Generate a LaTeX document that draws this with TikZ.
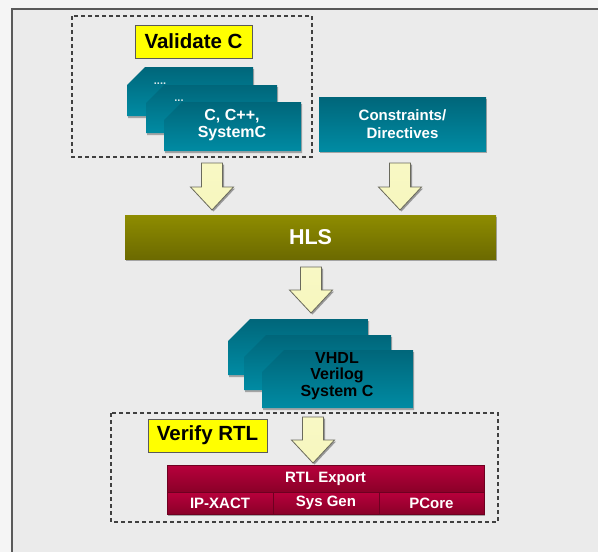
\documentclass[tikz,border=0pt]{standalone}
\usepackage{fontspec}
\setmainfont{Liberation Sans}
\usetikzlibrary{shadows}

\definecolor{pagebg}{HTML}{F5F5F5}
\definecolor{panelbg}{HTML}{EBEBEB}
\definecolor{framegray}{HTML}{5A5A5A}
\definecolor{tealtop}{HTML}{00667A}
\definecolor{tealbot}{HTML}{008BA3}
\definecolor{olivetop}{HTML}{8E8C00}
\definecolor{olivebot}{HTML}{6C6A00}
\definecolor{redtop}{HTML}{B8003C}
\definecolor{redbot}{HTML}{8A0028}
\definecolor{arrowfill}{HTML}{F7F7BE}
\definecolor{arrowline}{HTML}{6A6A5C}
\definecolor{labelyellow}{HTML}{FFFF00}

\tikzset{
  shade/.style={drop shadow={shadow xshift=1pt, shadow yshift=-2pt, opacity=0.3, fill=black}},
  card/.style={top color=tealtop, bottom color=tealbot, shade},
  tealbox/.style={draw=none, top color=tealtop, bottom color=tealbot, shade,
    inner sep=0pt, text=white, align=center, font=\bfseries\fontsize{15}{18}\selectfont},
  olivebar/.style={draw=none, top color=olivetop, bottom color=olivebot, shade,
    inner sep=0pt, text=white, font=\bfseries\fontsize{21.5}{24}\selectfont},
  redcell/.style={draw=redbot!80!black, line width=0.3pt, top color=redtop, bottom color=redbot,
    inner sep=0pt, text=white, font=\bfseries\fontsize{15}{17}\selectfont},
  tag/.style={draw=framegray, line width=0.6pt, fill=labelyellow, inner sep=0pt,
    font=\bfseries\fontsize{20.5}{23}\selectfont},
  groupbox/.style={draw=black!75, line width=1.3pt, dash pattern=on 4pt off 3pt},
  blockarrow/.style={draw=arrowline, line width=0.8pt, top color=arrowfill!90!white,
    bottom color=arrowfill, drop shadow={shadow xshift=1.5pt, shadow yshift=-1.5pt, opacity=0.35, fill=black}},
  cardtext/.style={align=center, inner sep=0pt, font=\bfseries\fontsize{16}{17.5}\selectfont},
  dots/.style={text=white!85!tealtop, font=\bfseries\fontsize{11}{12}\selectfont, inner sep=0pt}
}

% chamfered card: x1, y1, x2, y2, chamfer size
\newcommand\chamcard[5]{%
  \path[card] (#1,{#2+#5}) -- ({#1+#5},#2) -- (#3,#2) -- (#3,#4) -- (#1,#4) -- cycle;}

% downward block arrow: centre x, top y, tip y
\newcommand\downblock[3]{%
  \path[blockarrow] ({#1-10.5},#2) -- ({#1+10.5},#2) -- ({#1+10.5},{#3-23})
    -- ({#1+21.5},{#3-23}) -- (#1,#3) -- ({#1-21.5},{#3-23})
    -- ({#1-10.5},{#3-23}) -- cycle;}

\begin{document}
\begin{tikzpicture}[x=1pt, y=-1pt]
  \useasboundingbox (0,0) rectangle (598,552);
  \fill[pagebg] (0,0) rectangle (598,552);
  \fill[panelbg] (12,9) rectangle (598,552);
  \draw[framegray, line width=1.3pt] (12,552) -- (12,9) -- (598,9);

  % ---- C sources and validation ----
  \draw[groupbox] (72,16) rectangle (312,157);
  \node[tag, minimum width=117pt, minimum height=33pt] (validate) at (193.5,41.5) {Validate C};

  \chamcard{127}{67}{253}{116}{18}
  \chamcard{146}{85}{277}{133}{18}
  \chamcard{164}{102}{301}{151}{18}
  \node[dots] (dotsa) at (160,84) {....};
  \node[dots] (dotsb) at (179,101) {...};
  \node[cardtext, text=white] (src) at (232,125) {C, C++,\\SystemC};

  \node[tealbox, minimum width=167pt, minimum height=54pt] (cons) at (402.5,124) {Constraints/\\Directives};

  \downblock{212}{163}{210}
  \downblock{400}{163}{210}

  % ---- synthesis ----
  \node[olivebar, minimum width=371pt, minimum height=44pt] (hls) at (310.5,237) {HLS};

  \downblock{311}{267}{313}

  % ---- generated RTL ----
  \chamcard{228}{319}{368}{375}{22}
  \chamcard{244}{335}{391}{390}{22}
  \chamcard{262}{350}{413}{408}{22}
  \node[cardtext, text=black, font=\bfseries\fontsize{16}{16.5}\selectfont] (rtl) at (337,376) {VHDL\\Verilog\\System C};

  % ---- verification and export ----
  \draw[groupbox] (111,413) rectangle (498,522);
  \node[tag, minimum width=119pt, minimum height=33pt] (verify) at (207.5,435.5) {Verify RTL};

  \downblock{313}{417}{463}

  \path[shade, fill=redbot] (167,465) rectangle (484,514);
  \node[redcell, minimum width=317pt, minimum height=27pt] (export) at (325.5,478.5) {RTL Export};
  \node[redcell, minimum width=106pt, minimum height=22pt] (ipx) at (220,503) {IP-XACT};
  \node[redcell, minimum width=106pt, minimum height=22pt] (sysgen) at (326,503) {Sys Gen};
  \node[redcell, minimum width=105pt, minimum height=22pt] (pcore) at (431.5,503) {PCore};
\end{tikzpicture}
\end{document}
